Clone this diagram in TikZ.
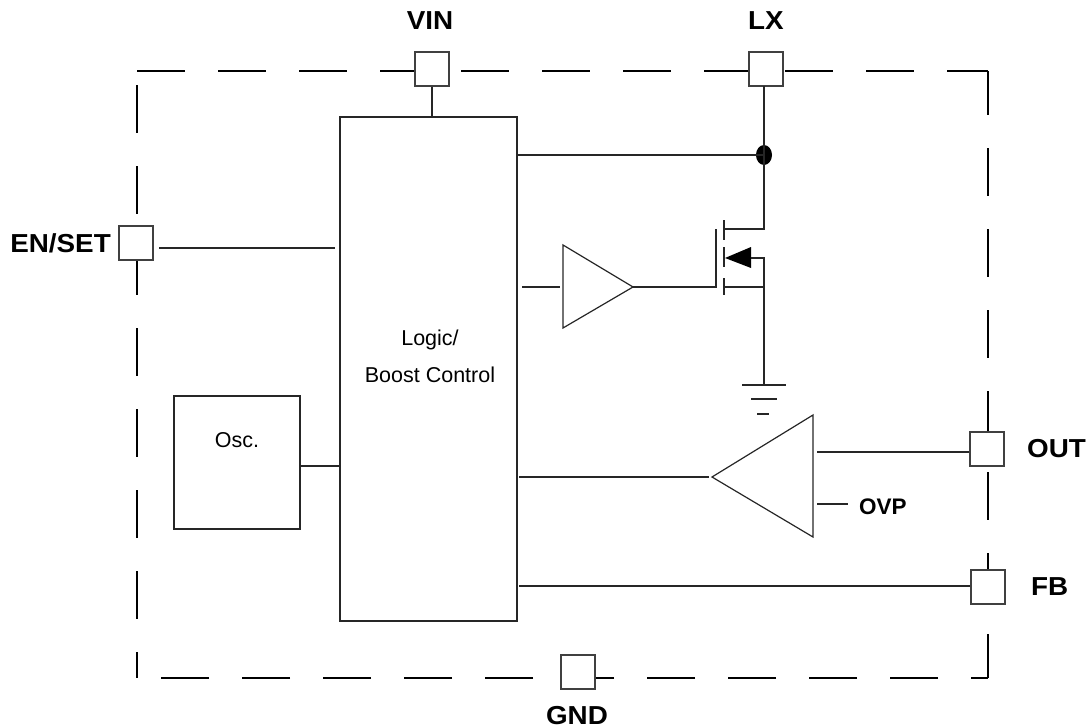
\documentclass[tikz,border=0pt]{standalone}
\usepackage{fontspec}
\setmainfont{Liberation Sans}
\usetikzlibrary{shapes.geometric}
\begin{document}
\begin{tikzpicture}[x=1pt,y=-1pt,
  wire/.style={draw=black!85, line width=1.2pt},
  border/.style={draw=black, line width=1.5pt, dash pattern=on 48pt off 33pt},
  pinbox/.style={draw=black!75, fill=white, minimum size=34pt, inner sep=0pt, line width=1.2pt},
  blockbox/.style={draw=black!85, fill=white, inner sep=0pt, line width=1.2pt},
  lbl/.style={font=\fontsize{26}{31}\selectfont\bfseries, inner sep=0pt, xscale=1.07},
  smalllbl/.style={font=\fontsize{22.5}{27}\selectfont\bfseries, inner sep=0pt},
  txt/.style={font=\fontsize{21.5}{26}\selectfont, inner sep=0pt}]
\useasboundingbox (0,0) rectangle (1088,728);

% dashed outline
\draw[border] (137,71) -- (988,71);
\draw[border, dash phase=4pt] (988,71) -- (988,678);
\draw[border, dash phase=31pt] (988,678) -- (137,678);
\draw[border, dash phase=67pt] (137,71) -- (137,678);

% pins
\node[pinbox] (vin) at (432,69) {};
\node[pinbox] (lx) at (766,69) {};
\node[pinbox] (en) at (136,243) {};
\node[pinbox] (out) at (987,449) {};
\node[pinbox] (fb) at (988,587) {};
\node[pinbox] (gnd) at (578,672) {};

\node[lbl, anchor=base] (vinl) at (430,30) {VIN};
\node[lbl, anchor=base] (lxl) at (766,30) {LX};
\node[lbl, anchor=base east] (enl) at (111,252) {EN/SET};
\node[lbl, anchor=base west] (outl) at (1027,457) {OUT};
\node[lbl, anchor=base west] (fbl) at (1031,595) {FB};
\node[lbl, anchor=base] (gndl) at (577,724) {GND};

% blocks
\node[blockbox, minimum width=177pt, minimum height=504pt] (logic) at (428.5,369) {};
\node[txt, anchor=base] (logict1) at (430,345) {Logic/};
\node[txt, anchor=base] (logict2) at (430,382) {Boost Control};
\node[blockbox, minimum width=126pt, minimum height=133pt] (osc) at (237,462.5) {};
\node[txt, anchor=base] (osct) at (237,447) {Osc.};

% VIN
\draw[wire] (vin.south) -- (vin.south |- logic.north);
% EN/SET
\coordinate (enA) at (159,248);
\coordinate (enB) at (335,248);
\draw[wire] (enA) -- (enB);
% Osc
\coordinate (oscA) at (300,466);
\coordinate (oscB) at (339,466);
\draw[wire] (oscA) -- (oscB);

% LX node and dot
\node[ellipse, fill=black, minimum width=16pt, minimum height=20pt, inner sep=0pt] (dot) at (764,155) {};
\coordinate (lgA) at (517,155);
\draw[wire] (lgA) -- (dot.center);
\coordinate (lxtop) at (764,86);
\coordinate (drn) at (764,229);
\coordinate (drnL) at (724,229);
\draw[wire] (lxtop) -- (drn) -- (drnL);

% driver buffer
\coordinate (drvA) at (522,287);
\coordinate (drvB) at (560,287);
\coordinate (drvTip) at (633,287);
\draw[wire] (drvA) -- (drvB);
\draw[wire] (563,245) -- (drvTip) -- (563,328) -- cycle;

% MOSFET
\coordinate (gate) at (716,287);
\draw[wire] (drvTip) -- (gate) -- (716,229);
\draw[wire] (724,220) -- (724,240);
\draw[wire] (724,247) -- (724,267);
\draw[wire] (724,278) -- (724,295);
\coordinate (src) at (764,287);
\coordinate (srcL) at (724,287);
\draw[wire] (srcL) -- (src);
\fill[black] (725,258) -- (751,247) -- (751,268) -- cycle;
\coordinate (bodyA) at (751,258);
\coordinate (bodyB) at (764,258);
\coordinate (gndtop) at (764,385);
\draw[wire] (bodyA) -- (bodyB) -- (gndtop);
% ground symbol
\draw[wire] (742,385) -- (786,385);
\draw[wire] (751,399) -- (777,399);
\draw[wire] (757,414) -- (769,414);

% comparator
\coordinate (cmpTip) at (712,477);
\draw[wire] (813,415) -- (cmpTip) -- (813,537) -- cycle;
\coordinate (cmpL) at (519,477);
\draw[wire] (cmpL) -- (709,477);
\coordinate (outA) at (817,452);
\draw[wire] (outA) -- (out.west |- outA);
\coordinate (ovpA) at (817,504);
\coordinate (ovpB) at (848,504);
\draw[wire] (ovpA) -- (ovpB);
\node[smalllbl, anchor=base west] (ovpl) at (859,514) {OVP};

% FB
\coordinate (fbA) at (519,586);
\draw[wire] (fbA) -- (fb.west |- fbA);
\end{tikzpicture}
\end{document}
